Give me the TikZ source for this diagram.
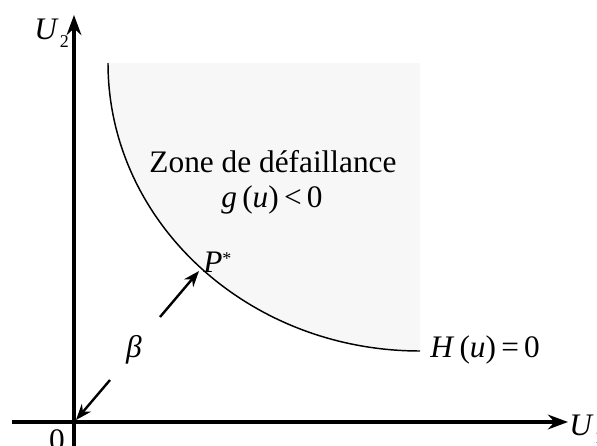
\documentclass[tikz,border=0pt]{standalone}
\usepackage{fontspec}
\setmainfont{Liberation Serif}
\usetikzlibrary{arrows.meta, positioning}
\definecolor{zonegray}{HTML}{F7F7F7}
\newcommand{\bigfont}{\fontsize{23.5}{28}\selectfont}
\newcommand{\subfont}{\fontsize{13.5}{15}\selectfont}
\tikzset{
	axisline/.style={
			line width=2.6pt,
			-{Stealth[length=15pt, width=11pt]}
		},
	limitcurve/.style={
			line width=1.1pt
		},
	betaarrow/.style={
			line width=1.8pt,
			-{Stealth[length=12pt, width=9pt]}
		},
	labeltext/.style={
			inner sep=0pt,
			font=\bigfont
		}
}

\begin{document}
\begin{tikzpicture}[x=0.75pt, y=-0.75pt]
\useasboundingbox (0,0) rectangle (597,446);

% failure zone
\fill[zonegray] (108,63) arc[start angle=180, end angle=90, x radius=312, y radius=288]
  -- (420,63) -- cycle;
\draw[limitcurve] (108,63) arc[start angle=180, end angle=90, x radius=312, y radius=288];

% axes
\coordinate (O) at (74,422);
\coordinate (xstart) at (12,422);
\coordinate (xend) at (568,422);
\coordinate (ystart) at (74,446);
\coordinate (yend) at (74,15);
\draw[axisline] (xstart) -- (xend);
\draw[axisline] (ystart) -- (yend);

% labels
\node[labeltext, anchor=base west] (u2) at (34,39) {\textit{U}\kern1pt\raisebox{-6pt}{\subfont 2}};
\node[labeltext, anchor=base west] (u1) at (569,435) {\textit{U}\kern1pt\raisebox{-6pt}{\subfont 1}};
\node[labeltext, anchor=base] (zero) at (57,450) {0};
\node[labeltext, anchor=base] (zone) at (273,172) {Zone de défaillance};
\node[labeltext, anchor=base] (gu) at (272,207) {\textit{g}\,(\textit{u})\,<\,0};
\node[labeltext, anchor=base west] (hu) at (430,357) {\textit{H}\,(\textit{u})\,=\,0};
\node[labeltext, anchor=base west] (plabel) at (203,272) {\textit{P}\raisebox{6pt}{\subfont *}};
\node[labeltext] (beta) at (134,350) {\textit{β}};

% beta arrows
\coordinate (Pstar) at (199,271);
\coordinate (btop) at (160,317);
\coordinate (bbot) at (110,380);
\draw[betaarrow] (btop) -- (Pstar);
\draw[betaarrow] (bbot) -- ([shift={(2,-2)}]O);

\end{tikzpicture}
\end{document}
